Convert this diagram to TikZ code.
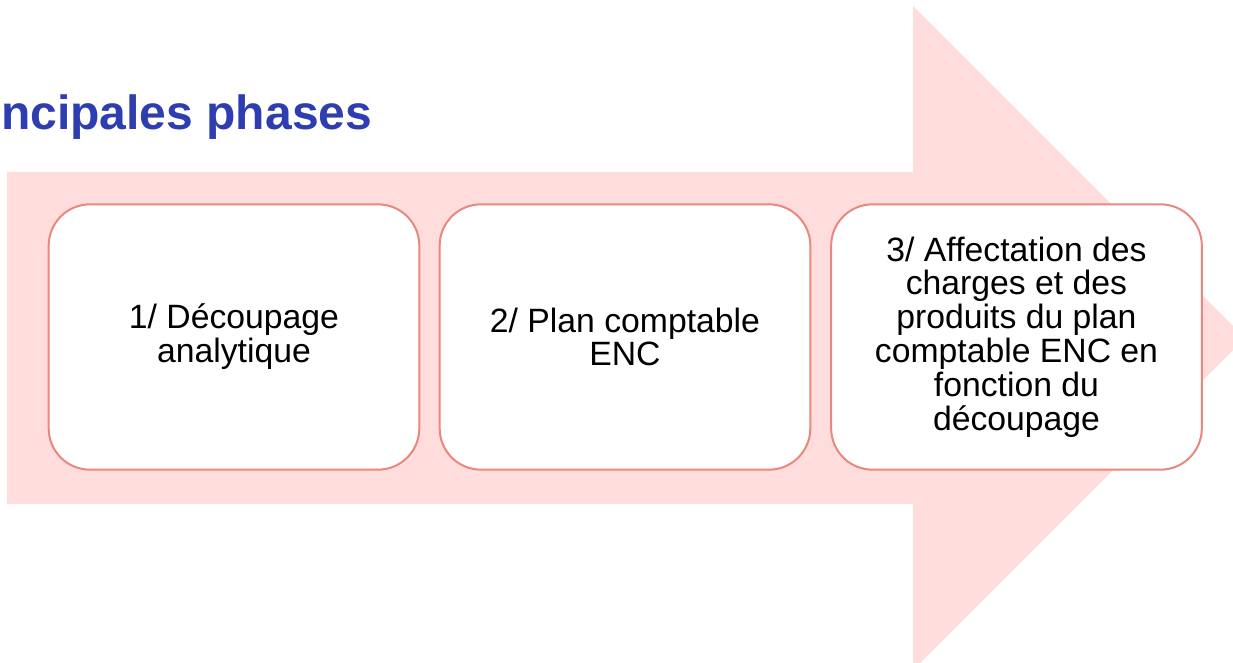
\documentclass[tikz,border=0pt]{standalone}
\usepackage{fontspec}
\setmainfont{Liberation Sans}
\usetikzlibrary{positioning}
\definecolor{arrowpink}{RGB}{255,221,220}
\definecolor{boxline}{RGB}{232,136,126}
\definecolor{titleblue}{RGB}{46,61,176}
\tikzset{
  phasebox/.style={draw=boxline, line width=1.5pt, fill=white, rounded corners=31pt,
    minimum width=278pt, minimum height=199pt, align=center,
    font=\fontsize{25.3}{25.4}\selectfont},
  titletext/.style={text=titleblue, font=\fontsize{36}{40}\selectfont\bfseries}
}
\begin{document}
\begin{tikzpicture}[x=0.75pt, y=-0.75pt]
			%%%%% START %%%%%
			
			\useasboundingbox (0, 0) rectangle (1233, 663);
			\clip (0, 0) rectangle (1233, 663);
			
			\fill[arrowpink] (7, 172) -- (913, 172) -- (913, 6) -- (1245, 338)
			  -- (913, 670) -- (913, 504) -- (7, 504) -- cycle;
			
			\node[titletext, anchor=base west, inner sep=0pt] (title) at (1, 130) {ncipales phases};
			
			\node[phasebox] (phaseA) at (234, 337) {1/ Découpage\\analytique};
			\node[phasebox] (phaseB) at (625, 337) {2/ Plan comptable\\ENC};
			\node[phasebox] (phaseC) at (1016.5, 337) {3/ Affectation des\\charges et des\\produits du plan\\comptable ENC en\\fonction du\\découpage};
			
			%%%%% END %%%%%
		\end{tikzpicture}
\end{document}
